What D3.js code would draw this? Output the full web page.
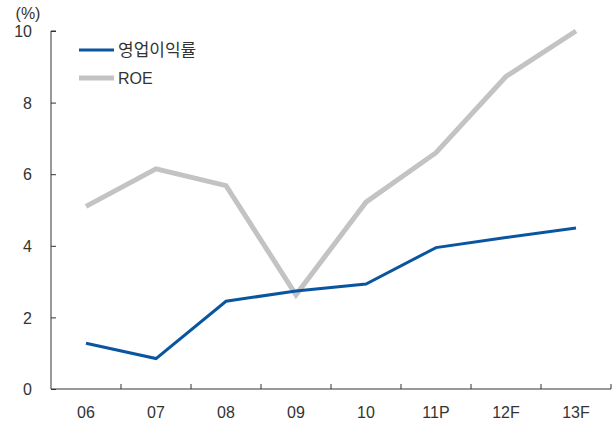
<!DOCTYPE html>
<html>
<head>
<meta charset="utf-8">
<script src="https://cdn.jsdelivr.net/npm/d3@7"></script>
<style>
  body { margin: 0; background: #fff; }
  svg text { font-family: "Liberation Sans", "Noto Sans CJK KR", sans-serif; fill: #333; }
</style>
</head>
<body>
<svg id="chart" width="613" height="425"></svg>
<script>
const years = ['06', '07', '08', '09', '10', '11P', '12F', '13F'];
const opMargin = [1.28, 0.85, 2.45, 2.74, 2.93, 3.95, 4.23, 4.5];
const roe = [5.1, 6.15, 5.68, 2.63, 5.22, 6.6, 8.73, 10.0];
const yTicks = [0, 2, 4, 6, 8, 10];

const svg = d3.select('#chart');
const plotLeft = 51, plotRight = 611, plotTop = 31, plotBottom = 389;

const x = d3.scaleBand()
  .domain(years)
  .range([plotLeft, plotRight]);

const y = d3.scaleLinear()
  .domain([0, 10])
  .range([plotBottom, plotTop]);

// y axis, ticks pointing inward
const yAxis = svg.append('g')
  .attr('transform', `translate(${plotLeft},0)`)
  .call(d3.axisRight(y).tickValues(yTicks).tickSize(5).tickFormat(d3.format('d')));
yAxis.select('.domain').attr('stroke', '#333').attr('d', `M5,${plotTop}H0V${plotBottom}`);
yAxis.selectAll('.tick line').attr('stroke', '#333');
yAxis.selectAll('.tick text')
  .attr('x', -19)
  .attr('text-anchor', 'end')
  .attr('dy', '0.35em')
  .style('font-size', '16px');

// x axis baseline
svg.append('line')
  .attr('x1', plotLeft).attr('x2', plotRight)
  .attr('y1', plotBottom).attr('y2', plotBottom)
  .attr('stroke', '#333');

// tick marks at category boundaries
const bounds = years.slice(1).map(d => x(d)).concat([plotRight]);
svg.append('g').selectAll('line')
  .data(bounds)
  .join('line')
  .attr('x1', d => d).attr('x2', d => d)
  .attr('y1', plotBottom).attr('y2', plotBottom - 5)
  .attr('stroke', '#333');

svg.append('g').selectAll('text')
  .data(years)
  .join('text')
  .attr('x', d => x(d) + x.bandwidth() / 2)
  .attr('y', 418)
  .attr('text-anchor', 'middle')
  .style('font-size', '16px')
  .text(d => d);

svg.append('text')
  .attr('x', 28)
  .attr('y', 19)
  .attr('text-anchor', 'middle')
  .style('font-size', '16px')
  .text('(%)');

const line = d3.line()
  .x((d, i) => x(years[i]) + x.bandwidth() / 2)
  .y(d => y(d));

svg.append('path')
  .datum(roe)
  .attr('d', line)
  .attr('fill', 'none')
  .attr('stroke', '#c3c3c3')
  .attr('stroke-width', 5);

svg.append('path')
  .datum(opMargin)
  .attr('d', line)
  .attr('fill', 'none')
  .attr('stroke', '#0a559f')
  .attr('stroke-width', 3);

// legend
const legend = [
  { name: '영업이익률', color: '#0a559f', width: 3, size: 17 },
  { name: 'ROE', color: '#c3c3c3', width: 5, size: 16 }
];
const lg = svg.append('g').selectAll('g')
  .data(legend)
  .join('g')
  .attr('transform', (d, i) => `translate(79,${50 + i * 28})`);
lg.append('line')
  .attr('x1', 0).attr('x2', 35)
  .attr('stroke', d => d.color)
  .attr('stroke-width', d => d.width);
lg.append('text')
  .attr('x', 39)
  .attr('dy', '0.36em')
  .style('font-size', d => d.size + 'px')
  .text(d => d.name);
</script>
</body>
</html>
